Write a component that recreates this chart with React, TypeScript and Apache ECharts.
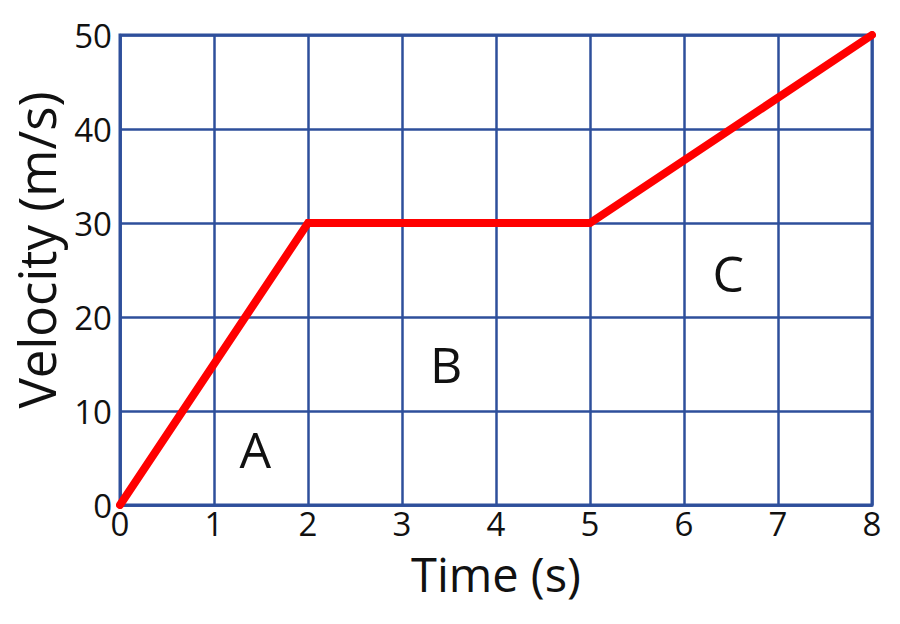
import React, { useEffect, useRef } from "react";
import * as echarts from "echarts";

const timeValues = [0, 2, 5, 8];
const velocityValues = [0, 30, 30, 50];
const regionLabels = ["A", "B", "C"];
const regionX = [1.44, 3.47, 6.47];
const regionY = [6.0, 15.0, 24.7];
const xTicks = [0, 1, 2, 3, 4, 5, 6, 7, 8];
const yTicks = [0, 10, 20, 30, 40, 50];

const FONT = "Open Sans";
const GRID_COLOR = "#2e4f9b";
const TEXT_COLOR = "#111111";

export default function App() {
  const ref = useRef<HTMLDivElement>(null);
  useEffect(() => {
    if (!ref.current) return;
    const chart = echarts.init(ref.current, null, { renderer: "svg" });
    const lineData = timeValues.map((t, i) => [t, velocityValues[i]]);
    const labelData = regionLabels.map((l, i) => [regionX[i], regionY[i], l]);
    chart.setOption({
      animation: false,
      backgroundColor: "#ffffff",
      grid: { left: 120, right: 28, top: 35, bottom: 119, containLabel: false },
      xAxis: {
        type: "value",
        min: xTicks[0],
        max: xTicks[xTicks.length - 1],
        interval: 1,
        name: "Time (s)",
        nameLocation: "middle",
        nameGap: 46,
        nameTextStyle: {
          fontFamily: FONT,
          fontSize: 47,
          lineHeight: 46,
          color: TEXT_COLOR,
        },
        axisLine: { show: true, lineStyle: { color: GRID_COLOR, width: 2.5 } },
        axisTick: { show: false },
        axisLabel: {
          fontFamily: FONT,
          fontSize: 33,
          lineHeight: 28,
          color: TEXT_COLOR,
          margin: 4,
          formatter: (v: number) => String(v),
        },
        splitLine: { show: true, lineStyle: { color: GRID_COLOR, width: 2.5 } },
      },
      yAxis: {
        type: "value",
        min: yTicks[0],
        max: yTicks[yTicks.length - 1],
        interval: 10,
        axisLine: { show: true, lineStyle: { color: GRID_COLOR, width: 2.5 } },
        axisTick: { show: false },
        axisLabel: {
          fontFamily: FONT,
          fontSize: 33,
          lineHeight: 28,
          color: TEXT_COLOR,
          margin: 8,
          formatter: (v: number) => String(v),
        },
        splitLine: { show: true, lineStyle: { color: GRID_COLOR, width: 2.5 } },
      },
      graphic: [
        {
          type: "rect",
          shape: { x: 120, y: 35, width: 752, height: 470 },
          style: { fill: "none", stroke: GRID_COLOR, lineWidth: 3 },
          z: 1,
          silent: true,
        },
        {
          type: "text",
          x: 36,
          y: 250,
          rotation: Math.PI / 2,
          style: {
            text: "Velocity (m/s)",
            fontFamily: FONT,
            fontSize: 51,
            fill: TEXT_COLOR,
            align: "center",
            verticalAlign: "middle",
          },
        },
      ],
      series: [
        {
          type: "line",
          data: lineData,
          symbol: "none",
          lineStyle: { color: "#ff0000", width: 8, cap: "round", join: "miter" },
          z: 5,
        },
        {
          type: "scatter",
          data: labelData,
          symbolSize: 0.1,
          itemStyle: { color: TEXT_COLOR, opacity: 1 },
          label: {
            show: true,
            position: "inside",
            formatter: (p: any) => p.data[2],
            fontFamily: FONT,
            fontSize: 50,
            color: TEXT_COLOR,
            opacity: 1,
            textBorderWidth: 0,
          },
          emphasis: { disabled: true },
          z: 6,
        },
      ],
    });
    return () => chart.dispose();
  }, []);
  return (
    <div
      ref={ref}
      style={{ position: "fixed", left: 0, top: 0, width: 900, height: 624 }}
    />
  );
}
